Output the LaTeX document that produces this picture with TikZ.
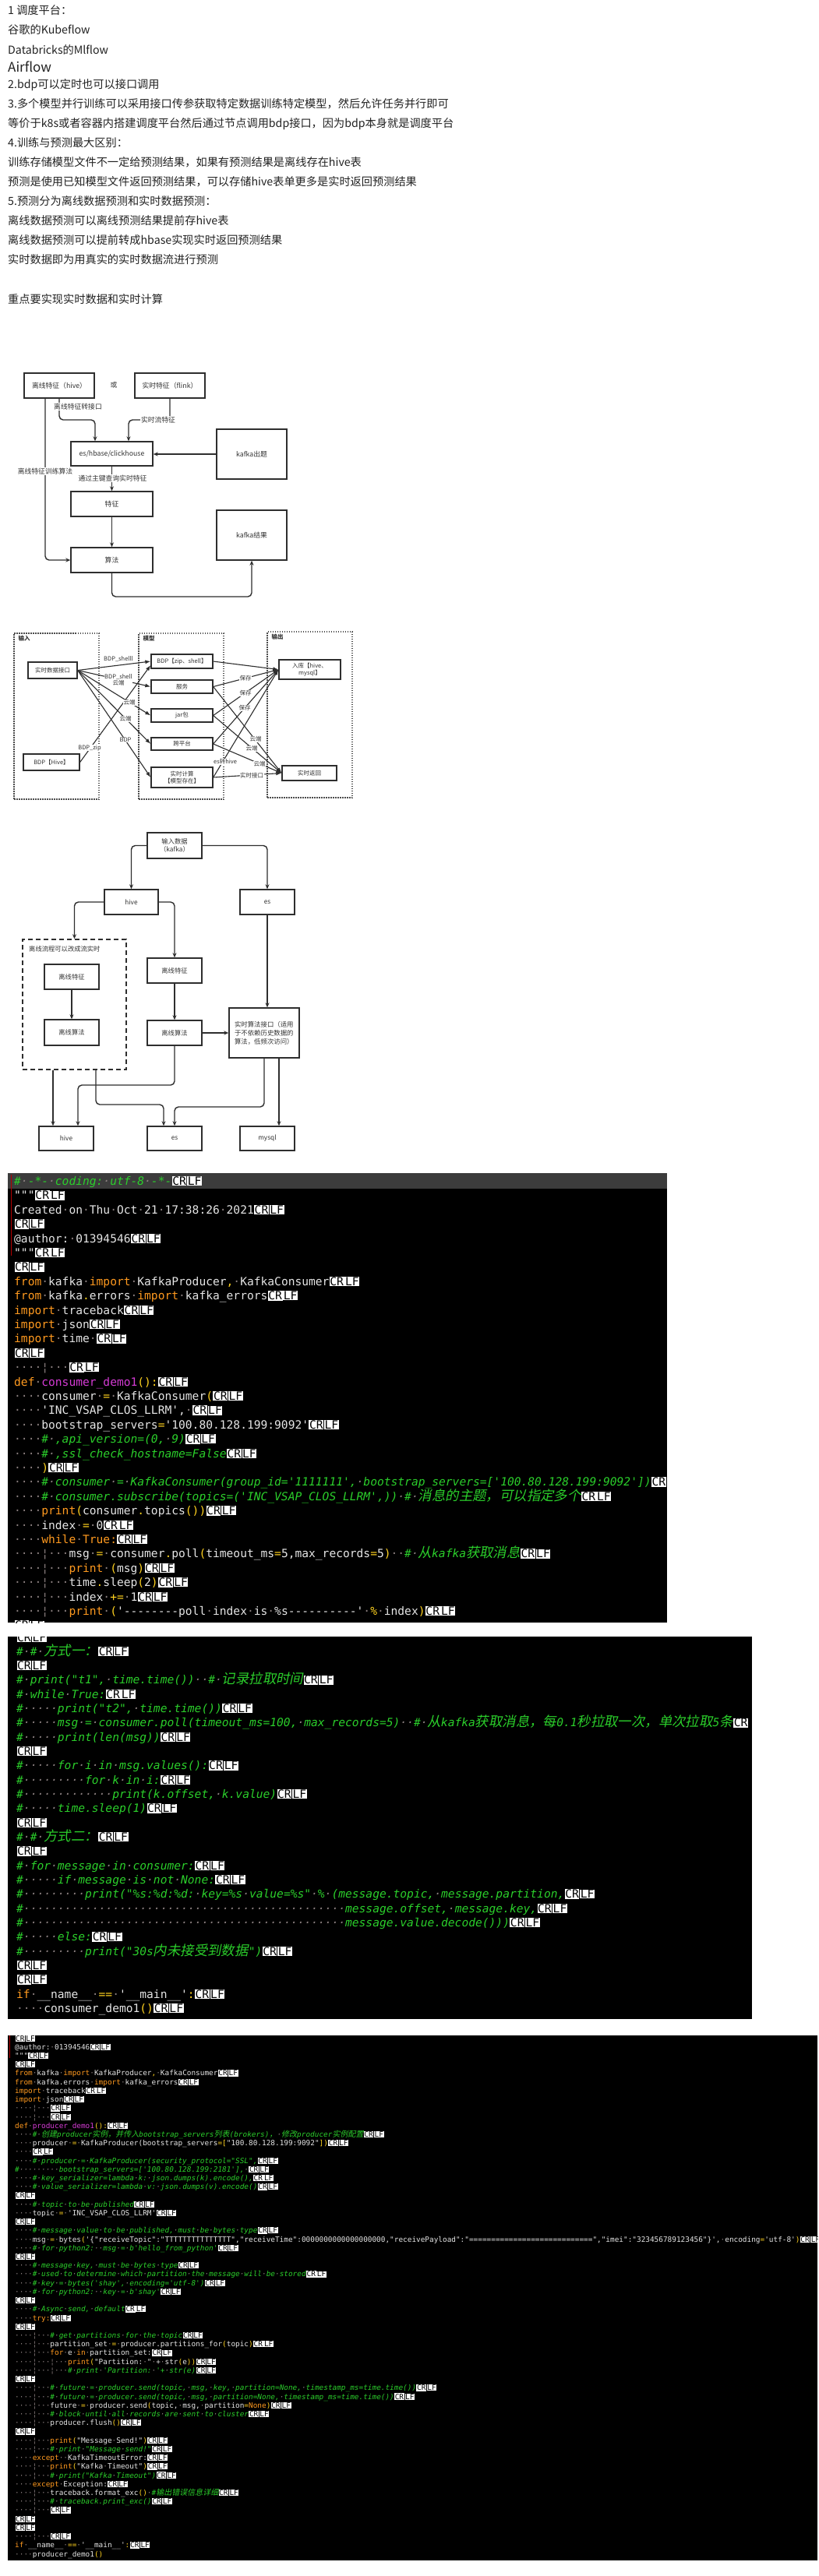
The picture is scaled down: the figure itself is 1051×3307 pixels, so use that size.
\documentclass[tikz,border=0pt]{standalone}
\usepackage{fontspec}
\usepackage{graphicx}
\setmainfont{Noto Sans CJK SC}
\setmonofont{DejaVu Sans Mono}
\newfontfamily\cjkslant{Noto Sans CJK SC}[FakeSlant=0.2]
\usetikzlibrary{arrows.meta,calc}
\definecolor{codew}{HTML}{E6E6E6}
\definecolor{ckw}{HTML}{FF9A1F}
\definecolor{cop}{HTML}{FFD21F}
\definecolor{cfn}{HTML}{D43BD4}
\definecolor{ccm}{HTML}{2BCF2B}
\definecolor{dotc}{HTML}{8A7F7F}
\definecolor{linebg}{HTML}{3C3C3C}
\definecolor{dline}{HTML}{2E2E2E}
\definecolor{dtext}{HTML}{333333}
\definecolor{toptext}{HTML}{222222}
\newcommand\kw[1]{\textcolor{ckw}{#1}}
\newcommand\op[1]{\textcolor{cop}{#1}}
\newcommand\fn[1]{\textcolor{cfn}{#1}}
\newcommand\cm[1]{\textcolor{ccm}{\itshape #1}}
\newcommand\zA[1]{{\cjkslant\fontsize{17.4}{17}\selectfont #1}}
\newcommand\zB[1]{{\cjkslant\fontsize{10}{11}\selectfont #1}}
\newcommand\ig{\textcolor{dotc}{\char"00A6}}
\newcommand\crlf{{\setlength\fboxsep{0.6pt}\hspace{0.3pt}\colorbox{white}{\textcolor{black}{\upshape CR}}\hspace{0.8pt}\colorbox{white}{\textcolor{black}{\upshape LF}}}}
\newcommand\crx{{\setlength\fboxsep{0.6pt}\hspace{0.3pt}\colorbox{white}{\textcolor{black}{\upshape CR}}}}
\newcommand\Dn[1]{\foreach \q in {1,...,#1}{\textcolor{dotc}{\char"00B7}}}
\newcommand\codeA[3]{\node[cl1] (#1) at (18,{1521.5+18.4*(#2-1)}) {#3};}
\newcommand\codeB[3]{\node[cl1] (#1) at (21,{2107+18.32*(#2-1)}) {#3};}
\newcommand\codeC[3]{\node[cl3] (#1) at (19,{2620+11.22*(#2-1)}) {#3};}
\catcode"00B7=\active
\def·{\textcolor{dotc}{\char"00B7}}
\begin{document}
\begin{tikzpicture}[x=1pt,y=-1pt,
 tx0/.style={anchor=base west, inner sep=0pt, text=toptext, font=\fontsize{14.2}{16}\selectfont},
 bx1/.style={draw=dline, line width=1.4pt, fill=white, inner sep=0pt, text=dtext, font=\fontsize{8.8}{11}\selectfont},
 ar1/.style={draw=dline, line width=1.4pt, -{Stealth[length=6pt,width=5pt]}, rounded corners=5pt},
 lb1/.style={fill=white, inner sep=1pt, text=dtext, font=\fontsize{8.8}{10}\selectfont},
 bx3/.style={bx1, font=\fontsize{8.3}{10.5}\selectfont},
 lb3/.style={lb1, font=\fontsize{8.3}{10}\selectfont},
 bx2/.style={draw=dline, line width=1.3pt, fill=white, inner sep=0pt, text=dtext, font=\fontsize{7.5}{9}\selectfont},
 ar2/.style={draw=dline, line width=1.1pt, -{Latex[length=7pt,width=5pt]}},
 lb2/.style={fill=white, inner sep=0.5pt, text=dtext, font=\fontsize{7.5}{8.5}\selectfont},
 grp2/.style={draw=black!70, line width=1.2pt, dash pattern=on 1.5pt off 1.5pt, inner sep=0pt},
 grp3/.style={draw=dline, line width=1.4pt, dash pattern=on 6pt off 4pt, inner sep=0pt},
 cl1/.style={anchor=base west, inner sep=0pt, text=codew, font=\ttfamily\fontsize{14.6}{17}\selectfont},
 cl3/.style={anchor=base west, inner sep=0pt, text=codew, font=\ttfamily\fontsize{9.4}{11}\selectfont}]
\fill[white] (0,0) rectangle (1051,3307);
\useasboundingbox (0,0) rectangle (1051,3307);
% ---------------- top text
\node[tx0] (t1) at (10,18.3) {1 调度平台：};
\node[tx0] (t2) at (10,43.3) {谷歌的Kubeflow};
\node[tx0] (t3) at (10,69.3) {Databricks的Mlflow};
\node[tx0, font=\fontsize{17}{19}\selectfont] (t4) at (10,92) {Airflow};
\node[tx0] (t5) at (10,113.3) {2.bdp可以定时也可以接口调用};
\node[tx0] (t6) at (10,138.3) {3.多个模型并行训练可以采用接口传参获取特定数据训练特定模型，然后允许任务并行即可};
\node[tx0] (t7) at (10,163.3) {等价于k8s或者容器内搭建调度平台然后通过节点调用bdp接口，因为bdp本身就是调度平台};
\node[tx0] (t8) at (10,188.3) {4.训练与预测最大区别：};
\node[tx0] (t9) at (10,213.3) {训练存储模型文件不一定给预测结果，如果有预测结果是离线存在hive表};
\node[tx0] (t10) at (10,238.3) {预测是使用已知模型文件返回预测结果，可以存储hive表单更多是实时返回预测结果};
\node[tx0] (t11) at (10,263.3) {5.预测分为离线数据预测和实时数据预测：};
\node[tx0] (t12) at (10,288.3) {离线数据预测可以离线预测结果提前存hive表};
\node[tx0] (t13) at (10,313.3) {离线数据预测可以提前转成hbase实现实时返回预测结果};
\node[tx0] (t14) at (10,338.3) {实时数据即为用真实的实时数据流进行预测};
\node[tx0] (t15) at (10,389.3) {重点要实现实时数据和实时计算};
% ---------------- diagram 1
\node[bx1, minimum width=90, minimum height=32] (h1) at (76,495) {离线特征（hive）};
\node[lb1, fill=none] (or1) at (146,494) {或};
\node[bx1, minimum width=90, minimum height=32] (f1) at (218,495) {实时特征（flink）};
\node[bx1, minimum width=105, minimum height=31] (es1) at (143.5,582.5) {es/hbase/clickhouse};
\node[bx1, minimum width=90, minimum height=64] (kq1) at (323,583) {kafka出题};
\node[bx1, minimum width=105, minimum height=32] (tz1) at (143.5,647) {特征};
\node[bx1, minimum width=105, minimum height=32] (sf1) at (143.5,719) {算法};
\node[bx1, minimum width=90, minimum height=64] (kr1) at (323,687) {kafka结果};
\draw[ar1] (h1.south) -- (76,539) -- (122,539) -- ([xshift=-21.5pt]es1.north);
\draw[ar1] (f1.south) -- (218,539) -- (165,539) -- ([xshift=21.5pt]es1.north);
\draw[ar1] ([xshift=-18pt]h1.south) |- (sf1.west);
\draw[ar1] (kq1.west) -- (kq1.west -| es1.east);
\draw[ar1] (es1.south) -- (tz1.north);
\draw[ar1] (tz1.south) -- (sf1.north);
\draw[ar1] (sf1.south) -- (143.5,766) -- (323,766) -- (kr1.south);
\node[lb1] (l1a) at (100,522) {离线特征转接口};
\node[lb1] (l1b) at (203,539) {实时流特征};
\node[lb1] (l1c) at (58,605) {离线特征训练算法};
\node[lb1] (l1d) at (144.5,614) {通过主键查询实时特征};
% ---------------- diagram 2
\node[grp2, minimum width=109, minimum height=213] (g2in) at (72.5,919.5) {};
\node[grp2, minimum width=109, minimum height=213] (g2md) at (232.5,919.5) {};
\node[grp2, minimum width=109, minimum height=213] (g2out) at (397.5,917.5) {};
\node[lb2, fill=none, anchor=west, font=\bfseries\fontsize{7.5}{8.5}\selectfont] (g2inl) at (23,820) {输入};
\node[lb2, fill=none, anchor=west, font=\bfseries\fontsize{7.5}{8.5}\selectfont] (g2mdl) at (183,820) {模型};
\node[lb2, fill=none, anchor=west, font=\bfseries\fontsize{7.5}{8.5}\selectfont] (g2outl) at (348,818) {输出};
\node[bx2, minimum width=63, minimum height=21] (rt2) at (67.5,860.5) {实时数据接口};
\node[bx2, minimum width=72, minimum height=21] (bh2) at (66,978.5) {BDP【Hive】};
\node[bx2, minimum width=79, minimum height=18] (zs2) at (233.5,849) {BDP【zip、shell】};
\node[bx2, minimum width=79, minimum height=17] (fw2) at (233.5,881.5) {服务};
\node[bx2, minimum width=79, minimum height=17] (jar2) at (233.5,918.5) {jar包};
\node[bx2, minimum width=79, minimum height=16] (kpt2) at (233.5,955) {跨平台};
\node[bx2, minimum width=79, minimum height=26, align=center] (ss2) at (233.5,998) {实时计算\\【模型存在】};
\node[bx2, minimum width=79, minimum height=25, align=center] (rk2) at (397.5,859.5) {入库【hive、\\mysql】};
\node[bx2, minimum width=70, minimum height=19] (fh2) at (397,992.5) {实时返回};
\draw[ar2] (rt2.east) -- (zs2.west);
\draw[ar2] (rt2.east) -- (fw2.west);
\draw[ar2] (rt2.east) -- (jar2.west);
\draw[ar2] (rt2.east) -- (kpt2.west);
\draw[ar2] (rt2.east) -- (ss2.west);
\draw[ar2] (bh2.east) -- ([yshift=-5pt]zs2.west);
\draw[ar2] (zs2.east) -- (rk2.west);
\draw[ar2] (fw2.east) -- (rk2.west);
\draw[ar2] (jar2.east) -- (rk2.west);
\draw[ar2] (kpt2.east) -- (rk2.west);
\draw[ar2] (ss2.east) -- (rk2.west);
\draw[ar2] (fw2.east) -- (fh2.west);
\draw[ar2] (jar2.east) -- (fh2.west);
\draw[ar2] (kpt2.east) -- (fh2.west);
\draw[ar2] (ss2.east) -- (fh2.west);
\node[lb2] (l2a) at (152,846) {BDP\_shelll};
\node[lb2, align=center] (l2b) at (152,873) {BDP\_shell\\云端};
\node[lb2] (l2c) at (166,902) {云端};
\node[lb2] (l2d) at (161,923) {云端};
\node[lb2] (l2e) at (161,950) {BDP};
\node[lb2] (l2f) at (115,960) {BDP\_zip};
\node[lb2] (l2g) at (315,871) {保存};
\node[lb2] (l2h) at (315,890) {保存};
\node[lb2] (l2i) at (314,909) {保存};
\node[lb2] (l2j) at (328,949) {云端};
\node[lb2] (l2k) at (323,961) {云端};
\node[lb2] (l2l) at (333,981) {云端};
\node[lb2] (l2m) at (289,978) {es转hive};
\node[lb2] (l2n) at (323,995.5) {实时接口};
% ---------------- diagram 3
\node[bx3, minimum width=70, minimum height=33, align=center] (in3) at (224,1085.5) {输入数据\\（kafka）};
\node[bx3, minimum width=69, minimum height=32] (hv3) at (168.5,1158) {hive};
\node[bx3, minimum width=70, minimum height=32] (es3) at (343,1158) {es};
\node[grp3, minimum width=133, minimum height=167] (gp3) at (95.5,1289.5) {};
\node[lb3, fill=none, anchor=west, inner sep=0pt] (gl3) at (37,1218) {离线流程可以改成流实时};
\node[bx3, minimum width=70, minimum height=32] (gf3) at (92,1254) {离线特征};
\node[bx3, minimum width=70, minimum height=33] (ga3) at (92,1325.5) {离线算法};
\node[bx3, minimum width=70, minimum height=32] (mf3) at (224,1246) {离线特征};
\node[bx3, minimum width=70, minimum height=32] (ma3) at (224,1326) {离线算法};
\node[bx3, minimum width=90, minimum height=64, align=left, text width=76, font=\fontsize{8.4}{11}\selectfont] (rt3) at (339,1326) {实时算法接口（适用\\于不依赖历史数据的\\算法，低频次访问）};
\node[bx3, minimum width=70, minimum height=31] (bh3) at (85,1461.5) {hive};
\node[bx3, minimum width=70, minimum height=31] (be3) at (224,1461.5) {es};
\node[bx3, minimum width=70, minimum height=31] (bm3) at (343,1461.5) {mysql};
\draw[ar1] (in3.west) -| (hv3.north);
\draw[ar1] (in3.east) -| (es3.north);
\draw[ar1] (hv3.west) -| (gp3.north);
\draw[ar1] (hv3.east) -| (mf3.north);
\draw[ar1] (es3.south) -- (es3.south |- rt3.north);
\draw[ar1] (gf3.south) -- (ga3.north);
\draw[ar1] (mf3.south) -- (ma3.north);
\draw[ar1] (ma3.east) -- (rt3.west);
\draw[ar1] ([xshift=-27.5pt]gp3.south) -- ([xshift=-17pt]bh3.north);
\draw[ar1] ([xshift=27.5pt]gp3.south) -- (123,1418) -- (210,1418) -- ([xshift=-14pt]be3.north);
\draw[ar1] (ma3.south) -- (224,1393) -- (100,1393) -- ([xshift=15pt]bh3.north);
\draw[ar1] (rt3.south) -- (339,1421) -- (224,1421) -- (be3.north);
\draw[ar1] ([xshift=19pt]rt3.south) -- ([xshift=15pt]bm3.north);
% ---------------- code block 1
\begin{scope}
\clip (10,1506) rectangle (856,2083);
\fill[black] (10,1506) rectangle (856,2083);
\fill[linebg] (10,1506) rectangle (856,1526);
\draw[red!70!black, line width=1pt] (14,1508) -- (14,1612);
\codeA{a1}{1}{\cm{\#·-*-·coding:·utf-8·-*-}\crlf}
\codeA{a2}{2}{"""\crlf}
\codeA{a3}{3}{Created·on·Thu·Oct·21·17:38:26·2021\crlf}
\codeA{a4}{4}{\crlf}
\codeA{a5}{5}{@author:·01394546\crlf}
\codeA{a6}{6}{"""\crlf}
\codeA{a7}{7}{\crlf}
\codeA{a8}{8}{\kw{from}·kafka·\kw{import}·KafkaProducer\op{,}·KafkaConsumer\crlf}
\codeA{a9}{9}{\kw{from}·kafka\op{.}errors·\kw{import}·kafka\_errors\crlf}
\codeA{a10}{10}{\kw{import}·traceback\crlf}
\codeA{a11}{11}{\kw{import}·json\crlf}
\codeA{a12}{12}{\kw{import}·time·\crlf}
\codeA{a13}{13}{\crlf}
\codeA{a14}{14}{····\ig···\crlf}
\codeA{a15}{15}{\kw{def}·\fn{consumer\_demo1}\op{():}\crlf}
\codeA{a16}{16}{····consumer·\op{=}·KafkaConsumer\op{(}\crlf}
\codeA{a17}{17}{····'INC\_VSAP\_CLOS\_LLRM',·\crlf}
\codeA{a18}{18}{····bootstrap\_servers\op{=}'100.80.128.199:9092'\crlf}
\codeA{a19}{19}{····\cm{\#·,api\_version=(0,·9)}\crlf}
\codeA{a20}{20}{····\cm{\#·,ssl\_check\_hostname=False}\crlf}
\codeA{a21}{21}{····\op{)}\crlf}
\codeA{a22}{22}{····\cm{\#·consumer·=·KafkaConsumer(group\_id='1111111',·bootstrap\_servers=['100.80.128.199:9092'])}\crx}
\codeA{a23}{23}{····\cm{\#·consumer.subscribe(topics=('INC\_VSAP\_CLOS\_LLRM',))·\#·\zA{消息的主题，可以指定多个}}\crlf}
\codeA{a24}{24}{····\kw{print}\op{(}consumer\op{.}topics\op{())}\crlf}
\codeA{a25}{25}{····index·\op{=}·0\crlf}
\codeA{a26}{26}{····\kw{while}·\kw{True:}\crlf}
\codeA{a27}{27}{····\ig···msg·\op{=}·consumer\op{.}poll\op{(}timeout\_ms\op{=}5,max\_records\op{=}5\op{)}··\cm{\#·\zA{从}kafka\zA{获取消息}}\crlf}
\codeA{a28}{28}{····\ig···\kw{print}·\op{(}msg\op{)}\crlf}
\codeA{a29}{29}{····\ig···time\op{.}sleep\op{(}2\op{)}\crlf}
\codeA{a30}{30}{····\ig···index·\op{+=}·1\crlf}
\codeA{a31}{31}{····\ig···\kw{print}·\op{(}'--------poll·index·is·\%s----------'·\op{\%}·index\op{)}\crlf}
\codeA{a32}{32}{\crlf}
\end{scope}
% ---------------- code block 2
\begin{scope}
\clip (10,2101) rectangle (965,2592);
\fill[black] (10,2101) rectangle (965,2592);
\codeB{b1}{1}{\crlf}
\codeB{b2}{2}{\cm{\#·\#·\zA{方式一：}}\crlf}
\codeB{b3}{3}{\crlf}
\codeB{b4}{4}{\cm{\#·print("t1",·time.time())··\#·\zA{记录拉取时间}}\crlf}
\codeB{b5}{5}{\cm{\#·while·True:}\crlf}
\codeB{b6}{6}{\cm{\#·····print("t2",·time.time())}\crlf}
\codeB{b7}{7}{\cm{\#·····msg·=·consumer.poll(timeout\_ms=100,·max\_records=5)··\#·\zA{从}kafka\zA{获取消息，每}0.1\zA{秒拉取一次，单次拉取}5\zA{条}}\crx}
\codeB{b8}{8}{\cm{\#·····print(len(msg))}\crlf}
\codeB{b9}{9}{\crlf}
\codeB{b10}{10}{\cm{\#·····for·i·in·msg.values():}\crlf}
\codeB{b11}{11}{\cm{\#·········for·k·in·i:}\crlf}
\codeB{b12}{12}{\cm{\#·············print(k.offset,·k.value)}\crlf}
\codeB{b13}{13}{\cm{\#·····time.sleep(1)}\crlf}
\codeB{b14}{14}{\crlf}
\codeB{b15}{15}{\cm{\#·\#·\zA{方式二：}}\crlf}
\codeB{b16}{16}{\crlf}
\codeB{b17}{17}{\cm{\#·for·message·in·consumer:}\crlf}
\codeB{b18}{18}{\cm{\#·····if·message·is·not·None:}\crlf}
\codeB{b19}{19}{\cm{\#·········print("\%s:\%d:\%d:·key=\%s·value=\%s"·\%·(message.topic,·message.partition,}\crlf}
\codeB{b20}{20}{\cm{\#\Dn{47}message.offset,·message.key,}\crlf}
\codeB{b21}{21}{\cm{\#\Dn{47}message.value.decode()))}\crlf}
\codeB{b22}{22}{\cm{\#·····else:}\crlf}
\codeB{b23}{23}{\cm{\#·········print("30s\zA{内未接受到数据}")}\crlf}
\codeB{b24}{24}{\crlf}
\codeB{b25}{25}{\crlf}
\codeB{b26}{26}{\kw{if}·\_\_name\_\_·\op{==}·'\_\_main\_\_'\op{:}\crlf}
\codeB{b27}{27}{····consumer\_demo1\op{()}\crlf}
\end{scope}
% ---------------- code block 3
\begin{scope}
\clip (10,2613) rectangle (1049,3287);
\fill[black] (10,2613) rectangle (1049,3287);
\draw[red!70!black, line width=1pt] (12,2613) -- (12,2642);
\codeC{c1}{1}{\crlf}
\codeC{c2}{2}{@author:·01394546\crlf}
\codeC{c3}{3}{"""\crlf}
\codeC{c4}{4}{\crlf}
\codeC{c5}{5}{\kw{from}·kafka·\kw{import}·KafkaProducer\op{,}·KafkaConsumer\crlf}
\codeC{c6}{6}{\kw{from}·kafka.errors·\kw{import}·kafka\_errors\crlf}
\codeC{c7}{7}{\kw{import}·traceback\crlf}
\codeC{c8}{8}{\kw{import}·json\crlf}
\codeC{c9}{9}{····\ig···\crlf}
\codeC{c10}{10}{····\ig···\crlf}
\codeC{c11}{11}{\kw{def}·\fn{producer\_demo1}\op{():}\crlf}
\codeC{c12}{12}{····\cm{\#·\zB{创建}producer\zB{实例，并传入}bootstrap\_servers\zB{列表}(brokers)\zB{，}·\zB{修改}producer\zB{实例配置}}\crlf}
\codeC{c13}{13}{····producer·\op{=}·KafkaProducer(bootstrap\_servers\op{=[}"100.80.128.199:9092"\op{])}\crlf}
\codeC{c14}{14}{····\crlf}
\codeC{c15}{15}{····\cm{\#·producer·=·KafkaProducer(security\_protocol="SSL",}\crlf}
\codeC{c16}{16}{\cm{\#·········bootstrap\_servers=['100.80.128.199:2181'],·}\crlf}
\codeC{c17}{17}{····\cm{\#·key\_serializer=lambda·k:·json.dumps(k).encode(),}\crlf}
\codeC{c18}{18}{····\cm{\#·value\_serializer=lambda·v:·json.dumps(v).encode()}\crlf}
\codeC{c19}{19}{\crlf}
\codeC{c20}{20}{····\cm{\#·topic·to·be·published}\crlf}
\codeC{c21}{21}{····topic·\op{=}·'INC\_VSAP\_CLOS\_LLRM'\crlf}
\codeC{c22}{22}{\crlf}
\codeC{c23}{23}{····\cm{\#·message·value·to·be·published,·must·be·bytes·type}\crlf}
\codeC{c24}{24}{····msg·\op{=}·bytes\op{(}'\{"receiveTopic":"TTTTTTTTTTTTTTT","receiveTime":0000000000000000000,"receivePayload":"============================","imei":"323456789123456"\}',·encoding\op{=}'utf-8'\op{)}\crlf}
\codeC{c25}{25}{····\cm{\#·for·python2:··msg·=·b'hello\_from\_python'}\crlf}
\codeC{c26}{26}{\crlf}
\codeC{c27}{27}{····\cm{\#·message·key,·must·be·bytes·type}\crlf}
\codeC{c28}{28}{····\cm{\#·used·to·determine·which·partition·the·message·will·be·stored}\crlf}
\codeC{c29}{29}{····\cm{\#·key·=·bytes('shay',·encoding='utf-8')}\crlf}
\codeC{c30}{30}{····\cm{\#·for·python2:··key·=·b'shay'}\crlf}
\codeC{c31}{31}{\crlf}
\codeC{c32}{32}{····\cm{\#·Async·send,·default}\crlf}
\codeC{c33}{33}{····\kw{try:}\crlf}
\codeC{c34}{34}{\crlf}
\codeC{c35}{35}{····\ig···\cm{\#·get·partitions·for·the·topic}\crlf}
\codeC{c36}{36}{····\ig···partition\_set·\op{=}·producer.partitions\_for\op{(}topic\op{)}\crlf}
\codeC{c37}{37}{····\ig···\kw{for}·e·\kw{in}·partition\_set:\crlf}
\codeC{c38}{38}{····\ig···\ig···\kw{print}\op{(}"Partition:·"·+·str\op{(}e\op{))}\crlf}
\codeC{c39}{39}{····\ig···\ig···\cm{\#·print·'Partition:·'+·str(e)}\crlf}
\codeC{c40}{40}{\crlf}
\codeC{c41}{41}{····\ig···\cm{\#·future·=·producer.send(topic,·msg,·key,·partition=None,·timestamp\_ms=time.time())}\crlf}
\codeC{c42}{42}{····\ig···\cm{\#·future·=·producer.send(topic,·msg,·partition=None,·timestamp\_ms=time.time())}\crlf}
\codeC{c43}{43}{····\ig···future·\op{=}·producer.send\op{(}topic,·msg,·partition\op{=}\kw{None}\op{)}\crlf}
\codeC{c44}{44}{····\ig···\cm{\#·block·until·all·records·are·sent·to·cluster}\crlf}
\codeC{c45}{45}{····\ig···producer.flush\op{()}\crlf}
\codeC{c46}{46}{\crlf}
\codeC{c47}{47}{····\ig···\kw{print}\op{(}"Message·Send!"\op{)}\crlf}
\codeC{c48}{48}{····\ig···\cm{\#·print·"Message·send!"}\crlf}
\codeC{c49}{49}{····\kw{except}··KafkaTimeoutError:\crlf}
\codeC{c50}{50}{····\ig···\kw{print}\op{(}"Kafka·Timeout"\op{)}\crlf}
\codeC{c51}{51}{····\ig···\cm{\#·print("Kafka·Timeout")}\crlf}
\codeC{c52}{52}{····\kw{except}·Exception:\crlf}
\codeC{c53}{53}{····\ig···traceback.format\_exc\op{()}·\cm{\#\zB{输出错误信息详细}}\crlf}
\codeC{c54}{54}{····\ig···\cm{\#·traceback.print\_exc()}\crlf}
\codeC{c55}{55}{····\ig···\crlf}
\codeC{c56}{56}{\crlf}
\codeC{c57}{57}{\crlf}
\codeC{c58}{58}{····\ig···\crlf}
\codeC{c59}{59}{\kw{if}·\_\_name\_\_·\op{==}·'\_\_main\_\_'\op{:}\crlf}
\codeC{c60}{60}{····producer\_demo1\op{()}}
\end{scope}
\end{tikzpicture}
\end{document}
